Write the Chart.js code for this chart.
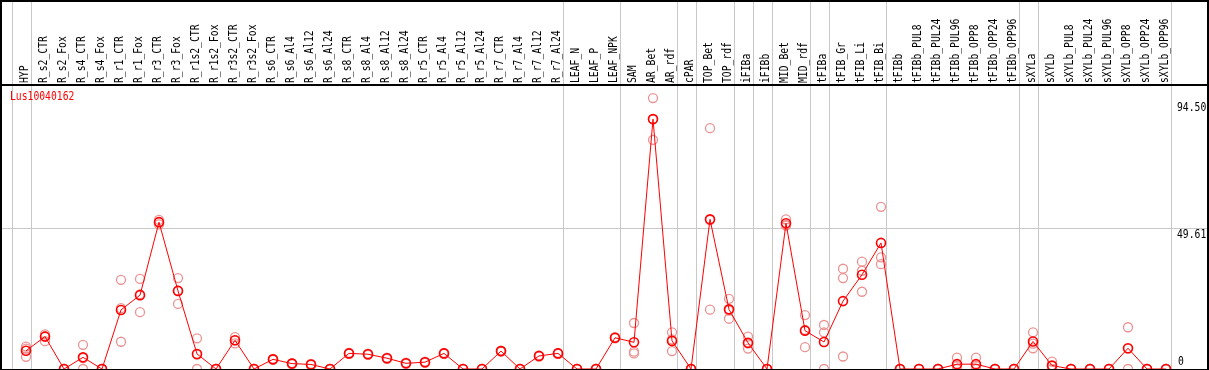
<!DOCTYPE html>
<html>
<head>
<meta charset="utf-8">
<script src="https://cdn.jsdelivr.net/npm/chart.js@4/dist/chart.umd.min.js"></script>
<style>
    html, body { margin: 0; padding: 0; background: #fff; }
    canvas { display: block; }
</style>
</head>
<body>
<canvas id="Chartjs-Expr" width="1209" height="370"></canvas>
<script>
//Expression profile for one gene

const geneName = 'Lus10040162';

const categories = [
    'HYP', 'R_s2_CTR', 'R_s2_Fox', 'R_s4_CTR', 'R_s4_Fox', 'R_r1_CTR', 'R_r1_Fox', 'R_r3_CTR', 'R_r3_Fox',
    'R_r1s2_CTR', 'R_r1s2_Fox', 'R_r3s2_CTR', 'R_r3s2_Fox', 'R_s6_CTR', 'R_s6_Al4', 'R_s6_Al12', 'R_s6_Al24',
    'R_s8_CTR', 'R_s8_Al4', 'R_s8_Al12', 'R_s8_Al24', 'R_r5_CTR', 'R_r5_Al4', 'R_r5_Al12', 'R_r5_Al24',
    'R_r7_CTR', 'R_r7_Al4', 'R_r7_Al12', 'R_r7_Al24', 'LEAF_N', 'LEAF_P', 'LEAF_NPK', 'SAM', 'AR_Bet', 'AR_rdf',
    'cPAR', 'TOP_Bet', 'TOP_rdf', 'iFIBa', 'iFIBb', 'MID_Bet', 'MID_rdf', 'tFIBa', 'tFIB_Gr', 'tFIB_Li', 'tFIB_Bi',
    'tFIBb', 'tFIBb_PUL8', 'tFIBb_PUL24', 'tFIBb_PUL96', 'tFIBb_OPP8', 'tFIBb_OPP24', 'tFIBb_OPP96',
    'sXYLa', 'sXYLb', 'sXYLb_PUL8', 'sXYLb_PUL24', 'sXYLb_PUL96', 'sXYLb_OPP8', 'sXYLb_OPP24', 'sXYLb_OPP96'
];

const meanValues = [
    6.4, 11.4, 0, 4.1, 0, 20.8, 26.0, 51.7, 27.5,
    5.3, 0, 10.1, 0, 3.4, 1.9, 1.6, 0,
    5.5, 5.2, 3.8, 2.0, 2.4, 5.5, 0, 0,
    6.3, 0, 4.6, 5.5, 0, 0, 11.0, 9.4, 88.0, 9.9,
    0, 52.7, 21.0, 9.2, 0, 51.3, 13.5, 9.5, 23.9, 33.2, 44.4,
    0, 0, 0, 1.7, 1.7, 0, 0,
    9.7, 1.2, 0, 0, 0, 7.3, 0, 0
];

const rep1 = [
    7.9, 12.2, 0, 8.5, 0, 31.4, 31.7, 52.5, 32.0,
    10.8, 0, 11.2, 0, 3.6, 2.1, 1.8, 0,
    5.7, 5.4, 4.0, 2.2, 2.6, 5.7, 0, 0,
    6.5, 0, 4.8, 5.7, 0, 0, 11.2, 16.2, 95.4, 12.9,
    0, 84.8, 24.7, 11.4, 0, 52.7, 19.0, 15.5, 35.3, 37.8, 57.1,
    0, 0, 0, 4.0, 4.0, 0, 0,
    12.9, 2.6, 0, 0, 0, 14.7, 0, 0
];

const rep2 = [
    7.2, 11.6, 0, 3.8, 0, 21.4, 26.3, 51.7, 27.6,
    5.1, 0, 10.1, 0, 3.4, 1.9, 1.6, 0,
    5.5, 5.2, 3.8, 2.0, 2.4, 5.5, 0, 0,
    6.3, 0, 4.6, 5.5, 0, 0, 11.0, 6.1, 87.9, 10.4,
    0, 52.4, 20.6, 9.0, 0, 50.7, 13.8, 12.9, 32.0, 34.6, 39.3,
    0, 0, 0, 1.1, 1.1, 0, 0,
    8.9, 1.0, 0, 0, 0, 7.2, 0, 0
];

const rep3 = [
    4.3, 9.8, 0, 0, 0, 9.6, 20.0, 50.9, 22.9,
    0, 0, 9.0, 0, 3.2, 1.7, 1.4, 0,
    5.3, 5.0, 3.6, 1.8, 2.2, 5.3, 0, 0,
    6.1, 0, 4.4, 5.3, 0, 0, 10.8, 5.5, 80.7, 6.3,
    0, 20.9, 17.7, 7.2, 0, 50.5, 7.7, 0, 4.4, 27.2, 36.9,
    0, 0, 0, 0, 0, 0, 0,
    7.3, 0, 0, 0, 0, 0, 0, 0
];

// right hand tick labels
const yTickValues = [0, 49.61, 94.5];
const yTickLabels = ['0', '49.61', '94.50'];

// group separators come right after these category indexes
const separatorsAfter = [-1, 0, 28, 31, 34, 35, 37, 38, 39, 41, 42, 45, 52, 53, 60];

const chartColors = {
    red: 'rgb(255, 0, 0)',
    rep: 'rgb(236, 146, 146)',
    grid: 'rgb(200, 200, 200)',
    black: 'rgb(0, 0, 0)'
};
// tall narrow mono text, like the old bitmap font
const FONT = '12px "DejaVu Sans Mono", "Liberation Mono", monospace';
const SQUEEZE = 0.81;

function toPoints(arr) {
    return arr.map(function (v, i) { return { x: i, y: v }; });
}

function squeezedText(ctx, txt, x, y, angle) {
    ctx.save();
    ctx.translate(x, y);
    if (angle) ctx.rotate(angle);
    ctx.scale(SQUEEZE, 1);
    ctx.fillText(txt, 0, 0);
    ctx.restore();
}

const frameAndText = {
    id: 'frameAndText',
    beforeDraw(chart) {
        const ctx = chart.ctx;
        ctx.save();
        ctx.fillStyle = '#fff';
        ctx.fillRect(0, 0, chart.width, chart.height);
        ctx.restore();
    },
    beforeDatasetsDraw(chart) {
        const ctx = chart.ctx;
        const xs = chart.scales.x, ys = chart.scales.y;
        const area = chart.chartArea;
        ctx.save();
        ctx.strokeStyle = chartColors.grid;
        ctx.lineWidth = 1;
        // horizontal grid only at the middle tick
        var gy = Math.round(ys.getPixelForValue(yTickValues[1])) + 0.5;
        ctx.beginPath();
        ctx.moveTo(area.left, gy);
        ctx.lineTo(chart.width, gy);
        ctx.stroke();
        for (var s of separatorsAfter) {
            var px = Math.round(xs.getPixelForValue(s + 0.25)) + 0.5;
            ctx.beginPath();
            ctx.moveTo(px, 0);
            ctx.lineTo(px, area.bottom);
            ctx.stroke();
        }
        ctx.restore();
    },
    afterDraw(chart) {
        const ctx = chart.ctx;
        const xs = chart.scales.x, ys = chart.scales.y;
        const area = chart.chartArea;
        ctx.save();
        ctx.font = FONT;
        ctx.fillStyle = chartColors.black;

        // rotated category names in the header, reading upwards
        ctx.textAlign = 'left';
        ctx.textBaseline = 'middle';
        categories.forEach(function (c, i) {
            squeezedText(ctx, c, xs.getPixelForValue(i) - 1, area.top - 2, -Math.PI / 2);
        });

        // value labels on the right
        yTickValues.forEach(function (v, k) {
            var py = ys.getPixelForValue(v);
            if (py + 12 > area.bottom) {
                ctx.textBaseline = 'bottom';
                squeezedText(ctx, yTickLabels[k], area.right + 8, area.bottom - 1);
            } else {
                ctx.textBaseline = 'top';
                squeezedText(ctx, yTickLabels[k], area.right + 7, py + 1);
            }
        });

        // gene name
        ctx.fillStyle = chartColors.red;
        ctx.textBaseline = 'middle';
        squeezedText(ctx, geneName, 10, 97);

        // black frame
        ctx.strokeStyle = chartColors.black;
        ctx.lineWidth = 2;
        ctx.strokeRect(1, 1, chart.width - 2, area.bottom);
        ctx.beginPath();
        ctx.moveTo(0, area.top);
        ctx.lineTo(chart.width, area.top);
        ctx.stroke();
        ctx.restore();
    }
};

const repStyle = {
    type: 'scatter',
    showLine: false,
    borderColor: chartColors.rep,
    backgroundColor: 'rgba(0,0,0,0)',
    pointRadius: 4.5,
    pointBorderWidth: 1.3,
    clip: false,
    order: 2
};

var ctx = document.getElementById('Chartjs-Expr').getContext('2d');
window.myChart = new Chart(ctx, {
    type: 'line',
    data: {
        datasets: [{
            label: 'Mean',
            data: toPoints(meanValues),
            borderColor: chartColors.red,
            borderWidth: 1,
            backgroundColor: 'rgba(0,0,0,0)',
            pointRadius: 4.5,
            pointBorderWidth: 1.6,
            pointBorderColor: chartColors.red,
            pointBackgroundColor: 'rgba(0,0,0,0)',
            tension: 0,
            clip: false,
            order: 0
        },
        Object.assign({ label: 'Rep 1', data: toPoints(rep1) }, repStyle),
        Object.assign({ label: 'Rep 2', data: toPoints(rep2) }, repStyle),
        Object.assign({ label: 'Rep 3', data: toPoints(rep3) }, repStyle)
        ]
    },
    options: {
        responsive: false,
        animation: false,
        layout: {
            autoPadding: false,
            padding: { top: 85, left: 1, right: 39, bottom: 1 }
        },
        plugins: {
            legend: { display: false },
            tooltip: { enabled: false }
        },
        scales: {
            x: { type: 'linear', min: -1.3158, max: 60.2105, display: false },
            y: { type: 'linear', min: 0, max: 100, display: false }
        }
    },
    plugins: [frameAndText]
});
</script>
</body>
</html>
